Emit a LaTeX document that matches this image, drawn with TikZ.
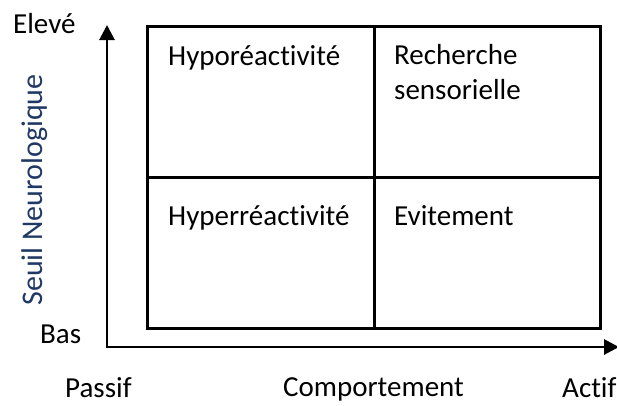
\documentclass[tikz,border=0pt]{standalone}
\usepackage{fontspec}
\setmainfont{Carlito}[Ligatures={NoCommon,NoRequired,NoContextual}]
\usetikzlibrary{arrows.meta}
\definecolor{seuilblue}{RGB}{31,56,100}
\begin{document}
\begin{tikzpicture}[x=1pt,y=-1pt,
  every node/.style={font=\fontsize{29}{35}\selectfont, inner sep=0pt},
  cell/.style={draw, line width=2.8pt, anchor=north west, minimum height=151pt},
  lbl/.style={anchor=base west},
  axis/.style={line width=2.8pt, -{Triangle[length=15pt,width=15pt]}}]
\useasboundingbox (0,0) rectangle (617,405);
% grid cells
\node[cell, minimum width=227pt] (tl) at (146,25) {};
\node[cell, minimum width=226pt] (tr) at (373,25) {};
\node[cell, minimum width=227pt] (bl) at (146,176) {};
\node[cell, minimum width=226pt] (br) at (373,176) {};
% cell texts
\node[lbl] (hypo) at (168,65) {Hyporéactivité};
\node[lbl, align=left, anchor=north west] (rech) at (394,44) {Recherche\\sensorielle};
\node[lbl] (hyper) at (168,225) {Hyperréactivité};
\node[lbl] (evit) at (394,225) {Evitement};
% axes
\coordinate (origin) at (107,347);
\coordinate (ytop) at (107,25);
\coordinate (xend) at (619,347);
\draw[axis] (origin) -- (ytop);
\draw[axis] ([xshift=-1.4pt]origin) -- (xend);
% axis labels
\node[lbl] (eleve) at (13,33) {Elevé};
\node[lbl] (bas) at (40,343) {Bas};
\node[lbl] (passif) at (65,397) {Passif};
\node[lbl] (comp) at (283,396) {Comportement};
\node[lbl] (actif) at (562,397) {Actif};
\node[rotate=90, anchor=base, text=seuilblue, font=\fontsize{30}{36}\selectfont] (seuil) at (42,190) {Seuil Neurologique};
\end{tikzpicture}
\end{document}
